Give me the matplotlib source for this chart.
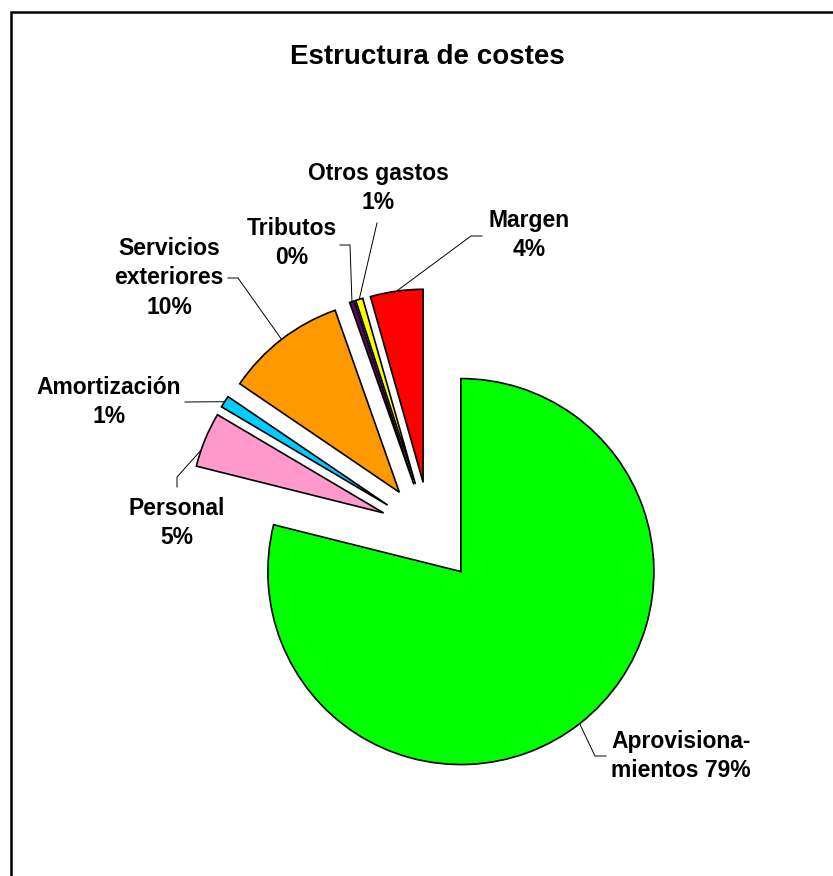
import numpy as np
import matplotlib
matplotlib.use("Agg")
import matplotlib.pyplot as plt

# cost structure shares (%)
categories = ["Aprovisionamientos", "Personal", "Amortización", "Servicios exteriores",
              "Tributos", "Otros gastos", "Margen"]
values = [78.9, 4.6, 1.0, 10.1, 0.4, 0.6, 4.4]
label_fmt = ["Aprovisiona-\nmientos {}%", "Personal\n{}%", "Amortización\n{}%",
             "Servicios\nexteriores\n{}%", "Tributos\n{}%", "Otros gastos\n{}%", "Margen\n{}%"]
colors = ["#00FF00", "#FF99CC", "#00CCFF", "#FF9900", "#660066", "#FFFF00", "#FF0000"]

W, H = 833, 876
plt.rcParams["font.family"] = ["Liberation Sans", "DejaVu Sans"]

fig = plt.figure(figsize=(W / 100, H / 100), dpi=100)
ax = fig.add_axes([0, 0, 1, 1])

radius = 193
wedges, _ = ax.pie(values, center=(430, H - 532), radius=radius,
                   explode=[0.26 * radius] * len(values),
                   startangle=90, counterclock=False, colors=colors,
                   wedgeprops=dict(edgecolor="black", linewidth=1.2))
ax.set_xlim(0, W)
ax.set_ylim(0, H)
ax.set_aspect("equal")
ax.axis("off")


def arc_point(w, t=0.5):
    th = np.deg2rad(w.theta1 + t * (w.theta2 - w.theta1))
    cx, cy = w.center
    return cx + w.r * np.cos(th), cy + w.r * np.sin(th)


# label centre and leader line bends, in pixels from the top left
label_pos = [(681, 756), (177, 523), (109, 402), (169, 278), (292, 243), (378, 188), (529, 235)]
anchor_t = [0.5, 0.7, 0.5, 0.5, 0.5, 0.5, 0.5]
leader_bends = [
    [(595, 756), (606, 756)],
    [(177, 477), (177, 487)],
    [(185, 402)],
    [(238, 278), (228, 278)],
    [(350, 245), (340, 245)],
    [(377, 223)],
    [(471, 236), (482, 236)],
]

for w, v, fmt, (tx, ty), t, bends in zip(wedges, values, label_fmt, label_pos,
                                          anchor_t, leader_bends):
    ax.text(tx, H - ty, fmt.format(round(v)), ha="center", va="center",
            fontsize=16.5, fontweight="bold", linespacing=1.35,
            multialignment="left" if fmt.startswith("Aprov") else "center")
    pts = [arc_point(w, t)] + [(bx, H - by) for bx, by in bends]
    xs, ys = zip(*pts)
    ax.plot(xs, ys, color="black", linewidth=0.7)

ax.text(427, H - 57, "Estructura de costes", ha="center", va="center",
        fontsize=20, fontweight="bold")

# chart area border (only left and top fall inside the image)
ax.plot([11, 11, W + 10], [-10, H - 12, H - 12], color="black", linewidth=1.8,
        solid_joinstyle="miter", clip_on=False)

fig.savefig("out.png", dpi=100)
